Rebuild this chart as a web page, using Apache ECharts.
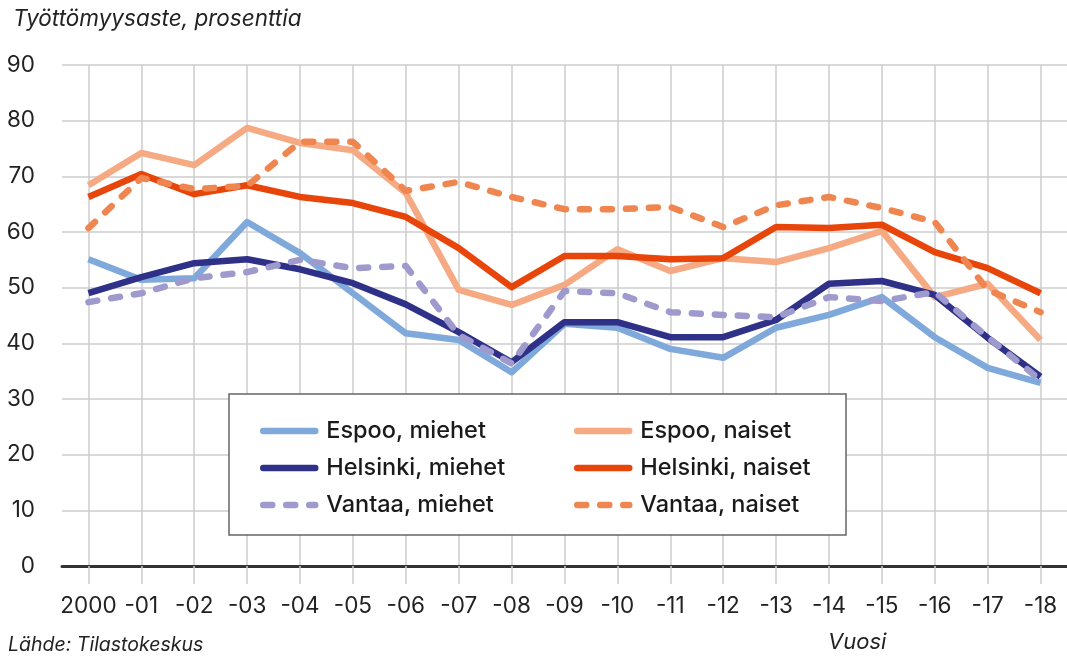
<!DOCTYPE html>
<html>
<head>
<meta charset="utf-8">
<script src="https://cdn.jsdelivr.net/npm/echarts@6/dist/echarts.min.js"></script>
<style>
  html, body { margin: 0; padding: 0; background: #fff; }
  #chart { width: 1067px; height: 658px; }
</style>
</head>
<body>
<div id="chart"></div>
<script>
const years = ['2000', '-01', '-02', '-03', '-04', '-05', '-06', '-07', '-08', '-09',
  '-10', '-11', '-12', '-13', '-14', '-15', '-16', '-17', '-18'];

const espooMiehet = [55.1, 51.4, 51.7, 61.8, 56.2, 49.0, 41.8, 40.6, 34.8, 43.5,
  42.8, 39.0, 37.4, 42.8, 45.1, 48.3, 41.1, 35.6, 32.9];
const helsinkiMiehet = [49.0, 51.9, 54.4, 55.1, 53.3, 50.8, 47.0, 42.0, 36.6, 43.8,
  43.8, 41.1, 41.1, 44.2, 50.7, 51.2, 48.7, 41.0, 34.0];
const vantaaMiehet = [47.4, 49.0, 51.7, 52.8, 55.0, 53.5, 53.9, 41.5, 36.4, 49.4,
  49.0, 45.6, 45.1, 44.7, 48.3, 47.6, 49.2, 41.1, 33.4];
const espooNaiset = [68.4, 74.2, 72.0, 78.7, 76.0, 74.7, 67.0, 49.6, 46.9, 50.5,
  56.9, 53.0, 55.3, 54.6, 57.1, 60.2, 48.3, 50.7, 40.6];
const helsinkiNaiset = [66.3, 70.4, 66.8, 68.4, 66.3, 65.2, 62.7, 57.1, 50.1, 55.7,
  55.7, 55.1, 55.3, 60.9, 60.7, 61.3, 56.4, 53.5, 49.0];
const vantaaNaiset = [60.7, 69.7, 67.7, 68.3, 76.2, 76.2, 67.4, 69.0, 66.3, 64.1,
  64.1, 64.5, 60.9, 64.8, 66.3, 64.3, 61.8, 49.6, 45.6];

const FONT = 'Inter';

const chart = echarts.init(document.getElementById('chart'));

function line(name, data, color, dashed) {
  return {
    name: name,
    type: 'line',
    data: data,
    symbol: 'none',
    lineStyle: {
      color: color,
      width: 6.5,
      type: dashed ? [9, 14] : 'solid',
      cap: dashed ? 'round' : 'butt',
      join: 'round'
    },
    itemStyle: { color: color }
  };
}

const legendBase = {
  orient: 'vertical',
  top: 414,
  itemWidth: 52,
  itemHeight: 6,
  itemGap: 13,
  itemStyle: { opacity: 0 },
  lineStyle: { width: 6.5, cap: 'round' },
  textStyle: { fontFamily: FONT, fontSize: 23.5, fontWeight: 500, color: '#1a1a1a', padding: [0, 0, 0, 6] }
};

const option = {
  animation: false,
  textStyle: { fontFamily: FONT },
  title: {
    text: 'Työttömyysaste, prosenttia',
    left: 8,
    top: 3,
    textStyle: { fontFamily: FONT, fontStyle: 'italic', fontWeight: 'normal', fontSize: 22.5, color: '#222' }
  },
  grid: { left: 62, right: 0, top: 65, bottom: 92 },
  // two legends so the columns line up
  legend: [
    Object.assign({}, legendBase, {
      data: ['Espoo, miehet', 'Helsinki, miehet', 'Vantaa, miehet'],
      left: 255
    }),
    Object.assign({}, legendBase, {
      data: ['Espoo, naiset', 'Helsinki, naiset', 'Vantaa, naiset'],
      left: 569
    })
  ],
  graphic: [
    {
      type: 'rect',
      z: 3,
      shape: { x: 229, y: 394, width: 617, height: 141 },
      style: { fill: '#fff', stroke: '#666', lineWidth: 1.5 }
    },
    {
      type: 'text',
      left: 8,
      top: 635,
      style: { text: 'Lähde: Tilastokeskus', font: 'italic 19.5px Inter', fill: '#222' }
    },
    {
      type: 'text',
      left: 828,
      top: 631,
      style: { text: 'Vuosi', font: 'italic 22px Inter', fill: '#222' }
    }
  ],
  xAxis: {
    type: 'category',
    data: years,
    boundaryGap: true,
    axisLine: { show: true, lineStyle: { color: '#333', width: 3 } },
    axisTick: { show: true, alignWithLabel: true, interval: 0, length: 18, lineStyle: { color: '#ccc', width: 1.5 } },
    axisLabel: { interval: 0, margin: 29, fontSize: 22.5, color: '#222', fontFamily: FONT },
    splitLine: { show: true, alignWithLabel: true, interval: 0, lineStyle: { color: '#ccc', width: 1.5 } }
  },
  yAxis: {
    type: 'value',
    min: 0,
    max: 90,
    interval: 10,
    axisLine: { show: false },
    axisTick: { show: false },
    axisLabel: { margin: 27, fontSize: 22.5, color: '#222', fontFamily: FONT },
    splitLine: { lineStyle: { color: '#ccc', width: 1.5 } }
  },
  series: [
    line('Espoo, miehet', espooMiehet, '#7fa8db', false),
    line('Espoo, naiset', espooNaiset, '#f6aa83', false),
    line('Helsinki, miehet', helsinkiMiehet, '#2f3189', false),
    line('Helsinki, naiset', helsinkiNaiset, '#e8450b', false),
    line('Vantaa, miehet', vantaaMiehet, '#9f9acd', true),
    line('Vantaa, naiset', vantaaNaiset, '#f0864f', true)
  ]
};

chart.setOption(option);
</script>
</body>
</html>
